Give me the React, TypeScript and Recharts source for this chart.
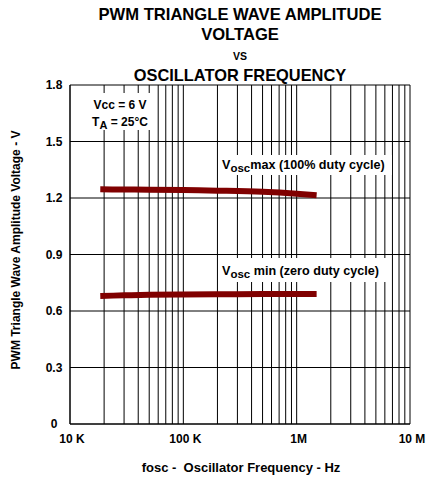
import React from "react";
import { LineChart, Line, XAxis, YAxis, CartesianGrid, Customized } from "recharts";

const freqTicks = [
  10000, 20000, 30000, 40000, 50000, 60000, 70000, 80000, 90000,
  100000, 200000, 300000, 400000, 500000, 600000, 700000, 800000, 900000,
  1000000, 2000000, 3000000, 4000000, 5000000, 6000000, 7000000, 8000000, 9000000,
  10000000,
];
const decadeLabels: Record<number, string> = {
  10000: "10 K",
  100000: "100 K",
  1000000: "1M",
  10000000: "10 M",
};
const voltTicks = [0, 0.3, 0.6, 0.9, 1.2, 1.5, 1.8];

const freqs = [18500, 30000, 50000, 100000, 200000, 500000, 1000000, 1500000];
const vmaxValues = [1.246, 1.245, 1.244, 1.242, 1.239, 1.233, 1.223, 1.215];
const vminValues = [0.680, 0.683, 0.686, 0.688, 0.689, 0.690, 0.690, 0.690];

const maxData = freqs.map((f, i) => ({ f, v: vmaxValues[i] }));
const minData = freqs.map((f, i) => ({ f, v: vminValues[i] }));

const FONT = "'Liberation Sans', Arial, sans-serif";

const XTick = (props: any) => {
  const { x, y, payload } = props;
  const label = decadeLabels[payload.value];
  if (!label) return null;
  return (
    <text x={x + 2} y={y + 19} textAnchor="middle" fontFamily={FONT} fontWeight="bold" fontSize={12} fill="#000">
      {label}
    </text>
  );
};

const YTick = (props: any) => {
  const { y, payload } = props;
  return (
    <text x={54} y={y + 4} textAnchor="middle" fontFamily={FONT} fontWeight="bold" fontSize={12} fill="#000">
      {payload.value === 0 ? "0" : payload.value.toFixed(1)}
    </text>
  );
};

const Overlay = () => (
  <g fontFamily={FONT} fontWeight="bold" fill="#000">
    <text x={240} y={20} textAnchor="middle" fontSize={16.6}>PWM TRIANGLE WAVE AMPLITUDE</text>
    <text x={240} y={40} textAnchor="middle" fontSize={16.6}>VOLTAGE</text>
    <text x={240} y={60} textAnchor="middle" fontSize={10.5}>VS</text>
    <text x={240} y={80.5} textAnchor="middle" fontSize={16.4}>OSCILLATOR FREQUENCY</text>

    <rect x={85} y={93} width={67} height={37} fill="#fff" />
    <text x={120} y={109} textAnchor="middle" fontSize={12}>Vcc = 6 V</text>
    <text x={120} y={126} textAnchor="middle" fontSize={12}>
      T<tspan fontSize={11} dy={3}>A</tspan><tspan dy={-3}> = 25°C</tspan>
    </text>

    <rect x={220} y={155} width={172} height={20} fill="#fff" />
    <text x={222} y={169} fontSize={12.6}>
      V<tspan fontSize={11.5} dy={3}>osc</tspan><tspan dy={-3}>max (100% duty cycle)</tspan>
    </text>

    <rect x={220} y={258} width={167} height={24} fill="#fff" />
    <text x={222} y={275} fontSize={12.6}>
      V<tspan fontSize={11.5} dy={3}>osc</tspan><tspan dy={-3}> min (zero duty cycle)</tspan>
    </text>

    <text x={0} y={0} transform="translate(19.5,250) rotate(-90)" textAnchor="middle" fontSize={12}>
      PWM Triangle Wave Amplitude Voltage - V
    </text>
    <text x={241} y={472} textAnchor="middle" fontSize={13} style={{ whiteSpace: "pre" }}>
      {"fosc -  Oscillator Frequency - Hz"}
    </text>
  </g>
);

export default function App() {
  return (
    <div style={{ position: "absolute", left: 0, top: 0, width: 427, height: 479, background: "#fff" }}>
      <LineChart width={427} height={479} margin={{ top: 85, right: 17, bottom: 0, left: 0 }}>
        <CartesianGrid stroke="#000" strokeWidth={1} />
        <XAxis
          type="number"
          dataKey="f"
          scale="log"
          domain={[10000, 10000000]}
          ticks={freqTicks}
          interval={0}
          allowDataOverflow
          height={55}
          tickLine={false}
          tickSize={0}
          tickMargin={0}
          axisLine={{ stroke: "#000" }}
          tick={<XTick />}
        />
        <YAxis
          type="number"
          dataKey="v"
          domain={[0, 1.8]}
          ticks={voltTicks}
          interval={0}
          width={70}
          tickLine={false}
          tickSize={0}
          tickMargin={0}
          axisLine={{ stroke: "#000" }}
          tick={<YTick />}
        />
        <Customized component={Overlay} />
        <Line data={maxData} dataKey="v" type="monotone" stroke="#800000" strokeWidth={6} dot={false} isAnimationActive={false} />
        <Line data={minData} dataKey="v" type="monotone" stroke="#800000" strokeWidth={6} dot={false} isAnimationActive={false} />
      </LineChart>
    </div>
  );
}
